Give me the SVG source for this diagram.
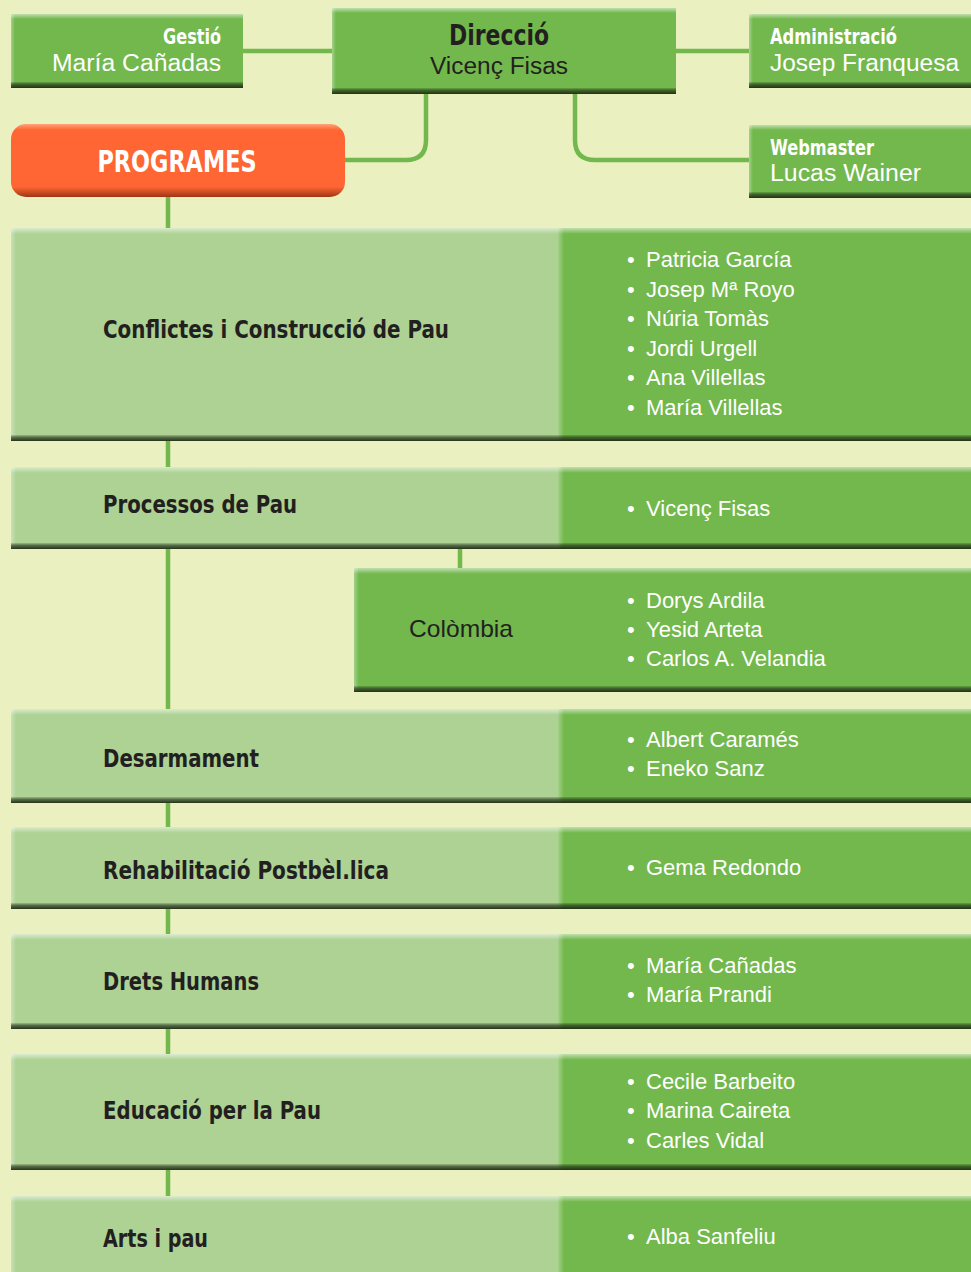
<svg xmlns="http://www.w3.org/2000/svg" width="971" height="1272" viewBox="0 0 971 1272">
<defs>
<linearGradient id="hl" x1="0" y1="0" x2="0" y2="1"><stop offset="0" stop-color="#fff" stop-opacity="0.55"/><stop offset="1" stop-color="#fff" stop-opacity="0"/></linearGradient>
<linearGradient id="sh" x1="0" y1="0" x2="0" y2="1"><stop offset="0" stop-color="#000" stop-opacity="0.1"/><stop offset="0.45" stop-color="#1e2d14" stop-opacity="0.65"/><stop offset="1" stop-color="#1a2610" stop-opacity="0.92"/></linearGradient>
<linearGradient id="lf" x1="0" y1="0" x2="1" y2="0"><stop offset="0" stop-color="#fff" stop-opacity="0.35"/><stop offset="1" stop-color="#fff" stop-opacity="0"/></linearGradient>
<linearGradient id="og" x1="0" y1="0" x2="0" y2="1"><stop offset="0" stop-color="#ffa27c"/><stop offset="0.08" stop-color="#ff6633"/><stop offset="0.86" stop-color="#ff6633"/><stop offset="1" stop-color="#9e3615"/></linearGradient>
</defs>
<style>
.bg{fill:#eaf0c0}
.dk{fill:#72b84c}
.lt{fill:#add293}
.hl{fill:url(#hl)}
.sh{fill:url(#sh)}
.lf{fill:url(#lf)}
.con{fill:none;stroke:#72b84c;stroke-width:4.5}
.tb{font-family:"Liberation Sans Narrow","DejaVu Sans Condensed","Liberation Sans",sans-serif;font-weight:bold;fill:#231f20;font-size:25px}
.tw{font-family:"Liberation Sans Narrow","DejaVu Sans Condensed","Liberation Sans",sans-serif;font-weight:bold;fill:#fff;font-size:21px}
.nm{font-family:"Liberation Sans",Arial,sans-serif;fill:#fff;font-size:22px}
.nd{font-family:"Liberation Sans",Arial,sans-serif;fill:#231f20;font-size:23.5px}
.nw{font-family:"Liberation Sans",Arial,sans-serif;fill:#fff;font-size:23.5px}
</style>
<rect class="bg" x="0" y="0" width="971" height="1272"/>

<g id="connectors">
<path class="con" d="M243 51H332"/>
<path class="con" d="M676 51H749"/>
<path class="con" d="M426 94V140Q426 160 406 160H345"/>
<path class="con" d="M575 94V140Q575 160 595 160H749"/>
<path class="con" d="M168 197V228"/>
<path class="con" d="M168 441V467"/>
<path class="con" d="M168 549V709"/>
<path class="con" d="M460 549V568"/>
<path class="con" d="M168 803V827"/>
<path class="con" d="M168 909V934"/>
<path class="con" d="M168 1029V1054"/>
<path class="con" d="M168 1170V1196"/>
</g>

<g id="gestio">
<rect class="dk" x="11" y="14" width="232" height="74"/>
<rect class="hl" x="11" y="14" width="232" height="5"/>
<rect class="lf" x="11" y="14" width="4" height="74"/>
<rect class="sh" x="11" y="82" width="232" height="6"/>
<text class="tw" x="221" y="44" text-anchor="end" textLength="58" lengthAdjust="spacingAndGlyphs">Gestió</text>
<text class="nw" x="221" y="71" text-anchor="end" textLength="169" lengthAdjust="spacingAndGlyphs">María Cañadas</text>
</g>

<g id="direccio">
<rect class="dk" x="332" y="8" width="344" height="86"/>
<rect class="hl" x="332" y="8" width="344" height="5"/>
<rect class="lf" x="332" y="8" width="4" height="86"/>
<rect class="sh" x="332" y="88" width="344" height="6"/>
<text class="tb" x="499" y="45" text-anchor="middle" style="font-size:28px" textLength="100" lengthAdjust="spacingAndGlyphs">Direcció</text>
<text class="nd" x="499" y="74" text-anchor="middle" textLength="138" lengthAdjust="spacingAndGlyphs">Vicenç Fisas</text>
</g>

<g id="administracio">
<rect class="dk" x="749" y="14" width="222" height="74"/>
<rect class="hl" x="749" y="14" width="222" height="5"/>
<rect class="lf" x="749" y="14" width="4" height="74"/>
<rect class="sh" x="749" y="82" width="222" height="6"/>
<text class="tw" x="770" y="44" textLength="127" lengthAdjust="spacingAndGlyphs">Administració</text>
<text class="nw" x="770" y="71" textLength="189" lengthAdjust="spacingAndGlyphs">Josep Franquesa</text>
</g>

<g id="webmaster">
<rect class="dk" x="749" y="125" width="222" height="73"/>
<rect class="hl" x="749" y="125" width="222" height="5"/>
<rect class="lf" x="749" y="125" width="4" height="73"/>
<rect class="sh" x="749" y="192" width="222" height="6"/>
<text class="tw" x="770" y="155" textLength="104" lengthAdjust="spacingAndGlyphs">Webmaster</text>
<text class="nw" x="770" y="181" textLength="151" lengthAdjust="spacingAndGlyphs">Lucas Wainer</text>
</g>

<g id="programes">
<rect x="11" y="124" width="334" height="73" rx="15" fill="url(#og)"/>
<text class="tw" x="177" y="172" text-anchor="middle" style="font-size:30px" textLength="159" lengthAdjust="spacingAndGlyphs">PROGRAMES</text>
</g>

<g id="conflictes">
<rect class="lt" x="11" y="228" width="547" height="213"/>
<rect class="dk" x="558" y="228" width="413" height="213"/>
<rect class="hl" x="11" y="228" width="960" height="6"/>
<rect class="lf" x="11" y="228" width="5" height="213"/>
<rect class="lf" x="558" y="228" width="6" height="213"/>
<rect class="sh" x="11" y="435" width="960" height="6"/>
<text class="tb" x="103" y="338" textLength="346" lengthAdjust="spacingAndGlyphs">Conflictes i Construcció de Pau</text>
<text class="nm" x="627" y="267"><tspan>•</tspan><tspan x="646">Patricia García</tspan></text>
<text class="nm" x="627" y="296.5"><tspan>•</tspan><tspan x="646">Josep Mª Royo</tspan></text>
<text class="nm" x="627" y="326"><tspan>•</tspan><tspan x="646">Núria Tomàs</tspan></text>
<text class="nm" x="627" y="355.5"><tspan>•</tspan><tspan x="646">Jordi Urgell</tspan></text>
<text class="nm" x="627" y="385"><tspan>•</tspan><tspan x="646">Ana Villellas</tspan></text>
<text class="nm" x="627" y="414.5"><tspan>•</tspan><tspan x="646">María Villellas</tspan></text>
</g>

<g id="processos">
<rect class="lt" x="11" y="467" width="547" height="82"/>
<rect class="dk" x="558" y="467" width="413" height="82"/>
<rect class="hl" x="11" y="467" width="960" height="6"/>
<rect class="lf" x="11" y="467" width="5" height="82"/>
<rect class="lf" x="558" y="467" width="6" height="82"/>
<rect class="sh" x="11" y="543" width="960" height="6"/>
<text class="tb" x="103" y="513" textLength="194" lengthAdjust="spacingAndGlyphs">Processos de Pau</text>
<text class="nm" x="627" y="516"><tspan>•</tspan><tspan x="646">Vicenç Fisas</tspan></text>
</g>

<g id="colombia">
<rect class="dk" x="354" y="568" width="617" height="124"/>
<rect class="hl" x="354" y="568" width="617" height="6"/>
<rect class="lf" x="354" y="568" width="5" height="124"/>
<rect class="sh" x="354" y="686" width="617" height="6"/>
<text class="nd" x="409" y="637" style="font-size:24px" textLength="104" lengthAdjust="spacingAndGlyphs">Colòmbia</text>
<text class="nm" x="627" y="608"><tspan>•</tspan><tspan x="646">Dorys Ardila</tspan></text>
<text class="nm" x="627" y="637"><tspan>•</tspan><tspan x="646">Yesid Arteta</tspan></text>
<text class="nm" x="627" y="666"><tspan>•</tspan><tspan x="646">Carlos A. Velandia</tspan></text>
</g>

<g id="desarmament">
<rect class="lt" x="11" y="709" width="547" height="94"/>
<rect class="dk" x="558" y="709" width="413" height="94"/>
<rect class="hl" x="11" y="709" width="960" height="6"/>
<rect class="lf" x="11" y="709" width="5" height="94"/>
<rect class="lf" x="558" y="709" width="6" height="94"/>
<rect class="sh" x="11" y="797" width="960" height="6"/>
<text class="tb" x="103" y="767" textLength="156" lengthAdjust="spacingAndGlyphs">Desarmament</text>
<text class="nm" x="627" y="747"><tspan>•</tspan><tspan x="646">Albert Caramés</tspan></text>
<text class="nm" x="627" y="776"><tspan>•</tspan><tspan x="646">Eneko Sanz</tspan></text>
</g>

<g id="rehabilitacio">
<rect class="lt" x="11" y="827" width="547" height="82"/>
<rect class="dk" x="558" y="827" width="413" height="82"/>
<rect class="hl" x="11" y="827" width="960" height="6"/>
<rect class="lf" x="11" y="827" width="5" height="82"/>
<rect class="lf" x="558" y="827" width="6" height="82"/>
<rect class="sh" x="11" y="903" width="960" height="6"/>
<text class="tb" x="103" y="879" textLength="286" lengthAdjust="spacingAndGlyphs">Rehabilitació Postbèl.lica</text>
<text class="nm" x="627" y="875"><tspan>•</tspan><tspan x="646">Gema Redondo</tspan></text>
</g>

<g id="drets">
<rect class="lt" x="11" y="934" width="547" height="95"/>
<rect class="dk" x="558" y="934" width="413" height="95"/>
<rect class="hl" x="11" y="934" width="960" height="6"/>
<rect class="lf" x="11" y="934" width="5" height="95"/>
<rect class="lf" x="558" y="934" width="6" height="95"/>
<rect class="sh" x="11" y="1023" width="960" height="6"/>
<text class="tb" x="103" y="990" textLength="156" lengthAdjust="spacingAndGlyphs">Drets Humans</text>
<text class="nm" x="627" y="973"><tspan>•</tspan><tspan x="646">María Cañadas</tspan></text>
<text class="nm" x="627" y="1002"><tspan>•</tspan><tspan x="646">María Prandi</tspan></text>
</g>

<g id="educacio">
<rect class="lt" x="11" y="1054" width="547" height="116"/>
<rect class="dk" x="558" y="1054" width="413" height="116"/>
<rect class="hl" x="11" y="1054" width="960" height="6"/>
<rect class="lf" x="11" y="1054" width="5" height="116"/>
<rect class="lf" x="558" y="1054" width="6" height="116"/>
<rect class="sh" x="11" y="1164" width="960" height="6"/>
<text class="tb" x="103" y="1119" textLength="218" lengthAdjust="spacingAndGlyphs">Educació per la Pau</text>
<text class="nm" x="627" y="1089"><tspan>•</tspan><tspan x="646">Cecile Barbeito</tspan></text>
<text class="nm" x="627" y="1118"><tspan>•</tspan><tspan x="646">Marina Caireta</tspan></text>
<text class="nm" x="627" y="1148"><tspan>•</tspan><tspan x="646">Carles Vidal</tspan></text>
</g>

<g id="arts">
<rect class="lt" x="11" y="1196" width="547" height="80"/>
<rect class="dk" x="558" y="1196" width="413" height="80"/>
<rect class="hl" x="11" y="1196" width="960" height="6"/>
<rect class="lf" x="11" y="1196" width="5" height="80"/>
<rect class="lf" x="558" y="1196" width="6" height="80"/>
<text class="tb" x="103" y="1247" textLength="105" lengthAdjust="spacingAndGlyphs">Arts i pau</text>
<text class="nm" x="627" y="1244"><tspan>•</tspan><tspan x="646">Alba Sanfeliu</tspan></text>
</g>
</svg>
